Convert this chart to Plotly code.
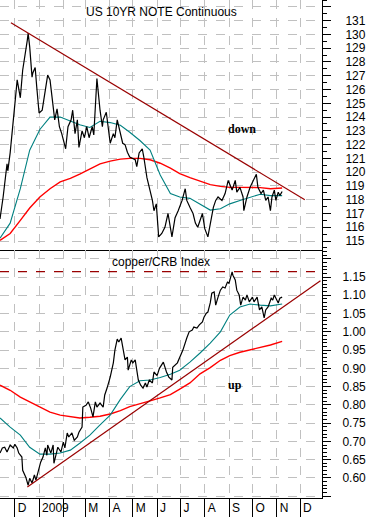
import plotly.graph_objects as go

# ---------------- data: US 10YR NOTE Continuous ----------------
note_dates = ["2008-11-12","2008-11-16","2008-11-21","2008-11-22","2008-11-25","2008-11-29","2008-12-04","2008-12-08","2008-12-11","2008-12-17","2008-12-18","2008-12-20","2008-12-23","2008-12-24","2008-12-27","2008-12-29","2009-01-01","2009-01-05","2009-01-09","2009-01-12","2009-01-15","2009-01-19","2009-01-21","2009-01-24","2009-01-27","2009-01-30","2009-02-01","2009-02-04","2009-02-07","2009-02-11","2009-02-13","2009-02-16","2009-02-19","2009-02-21","2009-02-25","2009-02-28","2009-03-03","2009-03-06","2009-03-10","2009-03-12","2009-03-16","2009-03-17","2009-03-20","2009-03-23","2009-03-24","2009-03-28","2009-03-29","2009-04-02","2009-04-06","2009-04-08","2009-04-11","2009-04-15","2009-04-18","2009-04-21","2009-04-24","2009-04-27","2009-05-01","2009-05-04","2009-05-06","2009-05-09","2009-05-13","2009-05-15","2009-05-19","2009-05-22","2009-05-26","2009-05-28","2009-05-31","2009-06-03","2009-06-07","2009-06-11","2009-06-15","2009-06-20","2009-06-24","2009-06-28","2009-07-03","2009-07-07","2009-07-09","2009-07-13","2009-07-17","2009-07-20","2009-07-23","2009-07-29","2009-08-01","2009-08-05","2009-08-09","2009-08-12","2009-08-15","2009-08-18","2009-08-23","2009-08-27","2009-08-31","2009-09-05","2009-09-09","2009-09-11","2009-09-15","2009-09-19","2009-09-20","2009-09-24","2009-09-28","2009-10-02","2009-10-06","2009-10-08","2009-10-12","2009-10-15","2009-10-18","2009-10-21","2009-10-24","2009-10-26","2009-10-29","2009-10-31","2009-11-03","2009-11-05","2009-11-08"]
note_close = [116.6,118.2,120.6,120.1,121.4,124.0,126.7,125.4,127.4,129.6,130.1,129.1,126.9,127.2,127.6,126.2,124.3,124.5,125.95,127.05,126.7,124.7,123.8,124.6,123.3,122.8,122.3,121.7,123.3,123.8,124.5,122.8,123.8,121.8,123.0,122.5,123.3,122.5,123.3,122.7,126.8,126.2,124.5,123.3,123.8,124.35,123.8,122.1,122.8,122.5,123.8,122.8,122.1,122.0,121.45,121.1,121.0,120.9,120.4,121.4,121.7,121.1,119.6,118.9,117.95,117.2,117.7,115.3,115.55,116.0,117.0,115.3,116.7,117.2,117.95,118.8,117.95,117.45,117.0,116.3,116.0,117.0,115.9,115.3,116.5,117.45,117.95,118.2,117.95,118.45,119.4,118.7,119.4,118.55,118.9,118.2,117.2,118.2,118.9,119.4,119.85,118.9,118.45,118.7,117.95,118.2,117.2,118.2,118.7,117.95,118.55,118.3,118.6]

ma_dates = ["2008-11-12","2008-11-25","2008-12-08","2008-12-20","2009-01-02","2009-01-15","2009-01-28","2009-02-10","2009-02-22","2009-03-07","2009-03-20","2009-04-02","2009-04-15","2009-04-27","2009-05-10","2009-05-23","2009-06-05","2009-06-18","2009-06-30","2009-07-13","2009-07-26","2009-08-08","2009-08-21","2009-09-02","2009-09-15","2009-09-28","2009-10-11","2009-10-24","2009-11-08"]
note_ma50 = [115.2,116.3,118.8,121.6,123.1,124.0,124.0,123.7,123.45,123.25,123.7,123.6,123.4,122.9,122.3,121.6,119.8,118.45,118.2,118.1,117.7,117.25,117.35,117.7,117.95,118.2,118.4,118.3,118.3]
note_ma200 = [115.05,115.55,116.5,117.4,118.2,118.8,119.3,119.55,119.85,120.2,120.6,120.8,120.95,121.0,121.0,120.9,120.65,120.3,119.9,119.6,119.35,119.1,118.97,118.9,118.9,118.9,118.88,118.8,118.85]

note_trend_dates = ["2008-11-26", "2009-12-07"]
note_trend = [130.85, 118.0]

# ---------------- data: copper/CRB Index ----------------
ratio_dates = ["2008-11-12","2008-11-15","2008-11-18","2008-11-21","2008-11-25","2008-11-29","2008-12-01","2008-12-04","2008-12-06","2008-12-10","2008-12-11","2008-12-15","2008-12-18","2008-12-20","2008-12-23","2008-12-26","2008-12-28","2008-12-31","2009-01-03","2009-01-06","2009-01-09","2009-01-11","2009-01-12","2009-01-16","2009-01-19","2009-01-20","2009-01-23","2009-01-25","2009-01-29","2009-02-01","2009-02-03","2009-02-06","2009-02-08","2009-02-12","2009-02-15","2009-02-19","2009-02-21","2009-02-25","2009-02-26","2009-03-02","2009-03-05","2009-03-08","2009-03-11","2009-03-14","2009-03-16","2009-03-20","2009-03-24","2009-03-26","2009-03-29","2009-04-02","2009-04-06","2009-04-08","2009-04-11","2009-04-13","2009-04-16","2009-04-18","2009-04-21","2009-04-24","2009-04-25","2009-04-29","2009-05-01","2009-05-04","2009-05-06","2009-05-08","2009-05-11","2009-05-14","2009-05-17","2009-05-19","2009-05-22","2009-05-26","2009-05-28","2009-06-01","2009-06-04","2009-06-09","2009-06-13","2009-06-16","2009-06-20","2009-06-21","2009-06-27","2009-06-30","2009-07-04","2009-07-09","2009-07-12","2009-07-16","2009-07-18","2009-07-22","2009-07-25","2009-07-29","2009-07-31","2009-08-03","2009-08-05","2009-08-08","2009-08-10","2009-08-13","2009-08-15","2009-08-18","2009-08-21","2009-08-24","2009-08-27","2009-08-30","2009-09-01","2009-09-05","2009-09-06","2009-09-09","2009-09-11","2009-09-14","2009-09-16","2009-09-19","2009-09-22","2009-09-24","2009-09-27","2009-10-01","2009-10-03","2009-10-07","2009-10-10","2009-10-13","2009-10-16","2009-10-18","2009-10-21","2009-10-25","2009-10-27","2009-10-29","2009-10-31","2009-11-03","2009-11-05","2009-11-08"]
ratio_close = [0.668,0.682,0.684,0.671,0.690,0.682,0.692,0.682,0.668,0.657,0.621,0.602,0.580,0.599,0.586,0.608,0.594,0.616,0.643,0.657,0.682,0.662,0.690,0.668,0.690,0.640,0.671,0.684,0.671,0.698,0.682,0.723,0.712,0.723,0.703,0.712,0.725,0.739,0.794,0.799,0.808,0.791,0.767,0.808,0.794,0.805,0.794,0.827,0.846,0.876,0.915,0.950,0.980,0.972,0.983,0.958,0.923,0.931,0.895,0.923,0.915,0.923,0.895,0.868,0.854,0.846,0.860,0.849,0.868,0.860,0.890,0.880,0.900,0.917,0.890,0.876,0.868,0.903,0.915,0.931,0.950,0.983,1.000,1.005,1.013,1.010,1.019,1.027,1.040,1.051,1.054,1.079,1.106,1.109,1.073,1.095,1.114,1.123,1.120,1.136,1.133,1.164,1.155,1.142,1.114,1.101,1.073,1.095,1.087,1.101,1.082,1.095,1.082,1.095,1.060,1.068,1.038,1.060,1.068,1.092,1.087,1.101,1.092,1.079,1.092,1.095]

ratio_ma50 = [0.764,0.739,0.717,0.684,0.665,0.665,0.668,0.676,0.695,0.717,0.745,0.772,0.815,0.850,0.866,0.868,0.875,0.884,0.895,0.917,0.942,0.969,1.000,1.046,1.068,1.076,1.073,1.071,1.076]
ratio_ma200 = [0.854,0.840,0.821,0.808,0.794,0.780,0.772,0.767,0.764,0.766,0.769,0.775,0.784,0.795,0.804,0.811,0.819,0.828,0.843,0.860,0.885,0.902,0.922,0.935,0.944,0.950,0.958,0.964,0.974]

ratio_trend_dates = ["2008-12-17", "2009-12-27"]
ratio_trend = [0.575, 1.140]
ratio_resistance = 1.165

# ---------------- axis labels ----------------
month_starts = ["2008-12-01","2009-01-01","2009-02-01","2009-03-01","2009-04-01","2009-05-01","2009-06-01","2009-07-01","2009-08-01","2009-09-01","2009-10-01","2009-11-01","2009-12-01"]
month_labels = ["D","2009","","M","A","M","J","J","A","S","O","N","D"]
note_ticks = list(range(115, 133))
ratio_ticks = [0.55,0.60,0.65,0.70,0.75,0.80,0.85,0.90,0.95,1.00,1.05,1.10,1.15,1.20]

x_range = ["2008-11-12", "2009-12-29"]

BLACK = "#000000"
TEAL = "#008080"
RED = "#ff0000"
DARKRED = "#990000"
GRID = "#c0c0c0"
FONT = "Liberation Sans, Arial, sans-serif"

fig = go.Figure()

# top panel
fig.add_trace(go.Scatter(x=ma_dates, y=note_ma200, mode="lines", line=dict(color=RED, width=1.4), xaxis="x", yaxis="y"))
fig.add_trace(go.Scatter(x=ma_dates, y=note_ma50, mode="lines", line=dict(color=TEAL, width=1.1), xaxis="x", yaxis="y"))
fig.add_trace(go.Scatter(x=note_dates, y=note_close, mode="lines", line=dict(color=BLACK, width=1.2), xaxis="x", yaxis="y"))
fig.add_trace(go.Scatter(x=note_trend_dates, y=note_trend, mode="lines", line=dict(color=DARKRED, width=1.2), xaxis="x", yaxis="y"))

# bottom panel
fig.add_trace(go.Scatter(x=ma_dates, y=ratio_ma200, mode="lines", line=dict(color=RED, width=1.4), xaxis="x2", yaxis="y2"))
fig.add_trace(go.Scatter(x=ma_dates, y=ratio_ma50, mode="lines", line=dict(color=TEAL, width=1.1), xaxis="x2", yaxis="y2"))
fig.add_trace(go.Scatter(x=ratio_dates, y=ratio_close, mode="lines", line=dict(color=BLACK, width=1.2), xaxis="x2", yaxis="y2"))
fig.add_trace(go.Scatter(x=ratio_trend_dates, y=ratio_trend, mode="lines", line=dict(color=DARKRED, width=1.2), xaxis="x2", yaxis="y2"))

fig.add_shape(type="line", xref="x2 domain", x0=0, x1=1, yref="y2", y0=ratio_resistance, y1=ratio_resistance,
              line=dict(color=DARKRED, width=1.2, dash="dash"))

split = 250 / 498.0

common_x = dict(range=x_range, type="date", tickvals=month_starts, showgrid=True, gridcolor=GRID,
                griddash="dash", gridwidth=1, showline=True, linecolor=BLACK, linewidth=1, zeroline=False,
                automargin=False)

fig.update_layout(
    width=371, height=517,
    margin=dict(l=0, r=49, t=0, b=19),
    paper_bgcolor="white", plot_bgcolor="white",
    showlegend=False,
    font=dict(family=FONT, size=12, color=BLACK),
    xaxis=dict(**common_x, anchor="y", showticklabels=False, ticks=""),
    xaxis2=dict(**common_x, anchor="y2", matches="x", ticktext=month_labels, ticks="outside", ticklen=19,
                tickcolor=BLACK, tickwidth=1, tickangle=0, ticklabelposition="outside right",
                ticklabelstandoff=-1, ticklabelshift=2, tickfont=dict(family=FONT, size=12, color=BLACK)),
    yaxis=dict(domain=[1 - split, 1], anchor="x", side="right", range=[114.35, 132.5],
               tickvals=note_ticks, ticktext=[str(v) if v < 132 else "" for v in note_ticks],
               ticks="outside", ticklen=8, tickcolor=BLACK, showline=True, linecolor=BLACK,
               showgrid=True, gridcolor=GRID, griddash="dash", zeroline=False, automargin=False,
               ticklabelstandoff=12, tickfont=dict(family=FONT, size=12, color=BLACK),
               minor=dict(dtick=0.5, tick0=0, ticks="outside", ticklen=4, tickcolor=BLACK, showgrid=False)),
    yaxis2=dict(domain=[0, 1 - split], anchor="x2", side="right", range=[0.545, 1.224],
                tickvals=ratio_ticks,
                ticktext=["" if (v < 0.58 or v > 1.18) else f"{v:.2f}" for v in ratio_ticks],
                ticks="outside", ticklen=8, tickcolor=BLACK, showline=True, linecolor=BLACK,
                showgrid=True, gridcolor=GRID, griddash="dash", zeroline=False, automargin=False,
                ticklabelstandoff=9, tickfont=dict(family=FONT, size=12, color=BLACK),
                minor=dict(dtick=0.01, tick0=0, ticks="outside", ticklen=4, tickcolor=BLACK, showgrid=False)),
    annotations=[
        dict(text="US 10YR NOTE Continuous", xref="paper", yref="paper", x=0.5, y=1 - 12 / 498.0,
             xanchor="center", yanchor="middle", showarrow=False, font=dict(family=FONT, size=12, color=BLACK)),
        dict(text="copper/CRB Index", xref="paper", yref="paper", x=0.5, y=1 - 262 / 498.0,
             xanchor="center", yanchor="middle", showarrow=False, font=dict(family=FONT, size=12, color=BLACK)),
        dict(text="<b>down</b>", xref="x", yref="y", x="2009-09-18", y=123.1, showarrow=False,
             font=dict(family="Liberation Serif, Times New Roman, serif", size=12, color=BLACK)),
        dict(text="<b>up</b>", xref="x2", yref="y2", x="2009-09-09", y=0.854, showarrow=False,
             font=dict(family="Liberation Serif, Times New Roman, serif", size=12, color=BLACK)),
    ],
)

fig.write_html("out.html", config={"displayModeBar": False},
               post_script="document.body.style.margin='0';document.body.style.overflow='hidden';")
